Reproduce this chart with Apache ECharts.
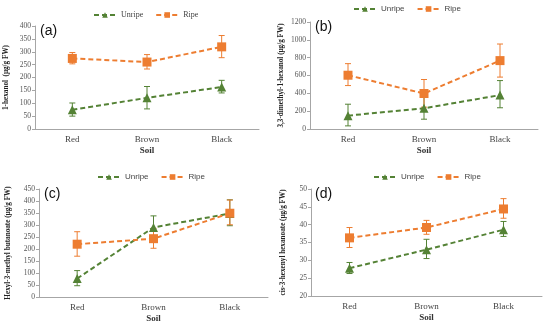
<!DOCTYPE html>
<html><head><meta charset="utf-8">
<script src="https://cdn.jsdelivr.net/npm/echarts@6/dist/echarts.min.js"></script>
<style>html,body{margin:0;padding:0;background:#fff}#c{width:550px;height:325px}</style>
</head><body><div id="c"></div>
<script>
const categories = ['Red', 'Brown', 'Black'];
const seriesNames = ['Unripe', 'Ripe'];
const panelLabels = ['(a)', '(b)', '(c)', '(d)'];
const yTitles = ['1-hexanol  (μg/g FW)', '3,3-dimethyl-1-hexanol (μg/g FW)', 'Hexyl-3-methyl butanoate (μg/g FW)', 'cis-3-hexenyl hexanoate (μg/g FW)'];
const yMin = [0, 0, 0, 20];
const yMax = [400, 1200, 450, 50];
const yInterval = [50, 200, 50, 5];

// (a) 1-hexanol
const aUnripe = [75, 121, 163];
const aUnripeLow = [50, 78, 140];
const aUnripeHigh = [101, 165, 189];
const aRipe = [274, 260, 319];
const aRipeLow = [253, 233, 277];
const aRipeHigh = [297, 289, 363];
// (b) 3,3-dimethyl-1-hexanol
const bUnripe = [150, 232, 380];
const bUnripeLow = [35, 110, 238];
const bUnripeHigh = [278, 360, 543];
const bRipe = [603, 398, 767];
const bRipeLow = [487, 245, 582];
const bRipeHigh = [733, 555, 953];
// (c) Hexyl-3-methyl butanoate
const cUnripe = [77, 290, 348];
const cUnripeLow = [47, 240, 297];
const cUnripeHigh = [110, 338, 405];
const cRipe = [220, 243, 349];
const cRipeLow = [170, 203, 301];
const cRipeHigh = [272, 286, 404];
// (d) cis-3-hexenyl hexanoate
const dUnripe = [27.8, 33.0, 38.6];
const dUnripeLow = [26.3, 30.5, 36.7];
const dUnripeHigh = [29.4, 35.9, 40.9];
const dRipe = [36.3, 39.2, 44.4];
const dRipeLow = [33.6, 37.3, 41.8];
const dRipeHigh = [39.2, 41.2, 47.3];

const panels = [
  [aUnripe, aUnripeLow, aUnripeHigh, aRipe, aRipeLow, aRipeHigh],
  [bUnripe, bUnripeLow, bUnripeHigh, bRipe, bRipeLow, bRipeHigh],
  [cUnripe, cUnripeLow, cUnripeHigh, cRipe, cRipeLow, cRipeHigh],
  [dUnripe, dUnripeLow, dUnripeHigh, dRipe, dRipeLow, dRipeHigh]
];

const GREEN = '#548235';
const ORANGE = '#ed7d31';
const serif = 'Liberation Serif';

const grids = [
  {left: 35, top: 26, width: 224, height: 103},
  {left: 310, top: 22, width: 228, height: 107},
  {left: 39, top: 189, width: 229, height: 108},
  {left: 311, top: 189, width: 231, height: 107}
];
const nameGaps = [25, 25, 27, 24];
const legendPos = [{left: 88, top: 6}, {left: 348, top: 0}, {left: 92, top: 168}, {left: 368, top: 168}];
const labelPos = [[40, 24], [315, 20], [44, 187], [315, 187]];

const chart = echarts.init(document.getElementById('c'));
const xAxis = [], yAxis = [], series = [], legend = [], graphic = [];

function errRender(color) {
  return function (params, api) {
    const x = api.value(0);
    const lo = api.coord([x, api.value(1)]);
    const hi = api.coord([x, api.value(2)]);
    const w = 3;
    const st = {stroke: color, lineWidth: 1};
    return {type: 'group', children: [
      {type: 'line', shape: {x1: lo[0], y1: lo[1], x2: hi[0], y2: hi[1]}, style: st},
      {type: 'line', shape: {x1: lo[0] - w, y1: lo[1], x2: lo[0] + w, y2: lo[1]}, style: st},
      {type: 'line', shape: {x1: hi[0] - w, y1: hi[1], x2: hi[0] + w, y2: hi[1]}, style: st}
    ]};
  };
}

panels.forEach((p, i) => {
  xAxis.push({
    type: 'category', gridIndex: i, data: categories,
    name: 'Soil', nameLocation: 'middle', nameGap: 17,
    nameTextStyle: {fontFamily: serif, fontWeight: 'bold', fontSize: 9, color: '#333'},
    axisLine: {lineStyle: {color: '#a6a6a6'}}, axisTick: {show: false},
    axisLabel: {fontFamily: serif, fontSize: 9, color: '#444', margin: 6}
  });
  yAxis.push({
    type: 'value', gridIndex: i, min: yMin[i], max: yMax[i], interval: yInterval[i],
    name: yTitles[i], nameLocation: 'middle', nameGap: nameGaps[i],
    nameTextStyle: {fontFamily: serif, fontWeight: 'bold', fontSize: 7.2, color: '#222'},
    axisLine: {show: true, lineStyle: {color: '#a6a6a6'}},
    axisTick: {show: true, length: 3, lineStyle: {color: '#a6a6a6'}},
    splitLine: {show: false},
    axisLabel: {fontFamily: serif, fontSize: 7.5, color: '#555', margin: 4, formatter: v => String(v)}
  });
  const errU = categories.map((c, k) => [k, p[1][k], p[2][k]]);
  const errR = categories.map((c, k) => [k, p[4][k], p[5][k]]);
  series.push({type: 'custom', xAxisIndex: i, yAxisIndex: i, renderItem: errRender(GREEN), data: errU, encode: {x: 0, y: [1, 2]}, z: 1, silent: true});
  series.push({type: 'custom', xAxisIndex: i, yAxisIndex: i, renderItem: errRender(ORANGE), data: errR, encode: {x: 0, y: [1, 2]}, z: 1, silent: true});
  series.push({
    name: seriesNames[0], type: 'line', xAxisIndex: i, yAxisIndex: i, data: p[0],
    symbol: 'triangle', symbolSize: 9, z: 3,
    lineStyle: {color: GREEN, width: 2, type: [5, 3]}, itemStyle: {color: GREEN}
  });
  series.push({
    name: seriesNames[1], type: 'line', xAxisIndex: i, yAxisIndex: i, data: p[3],
    symbol: 'rect', symbolSize: 9, z: 3,
    lineStyle: {color: ORANGE, width: 2, type: [5, 3]}, itemStyle: {color: ORANGE}
  });
  legend.push(Object.assign({
    data: seriesNames, itemWidth: 22, itemHeight: 7, itemGap: 12,
    textStyle: {fontSize: 8, color: '#444', fontFamily: i === 0 ? serif : 'Liberation Sans'}
  }, legendPos[i]));
  graphic.push({type: 'text', left: labelPos[i][0], top: labelPos[i][1], style: {text: panelLabels[i], font: '14px "Liberation Sans"', fill: '#111'}});
});

chart.setOption({
  animation: false,
  grid: grids, xAxis, yAxis, series, legend, graphic
});
</script></body></html>
